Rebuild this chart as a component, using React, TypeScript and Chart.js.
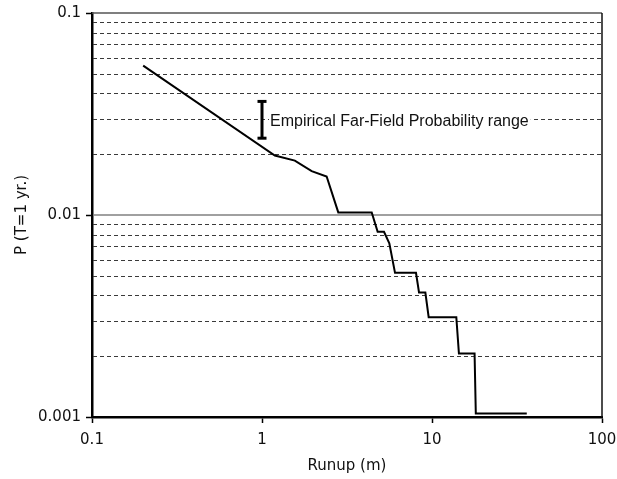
import React, { useEffect, useRef } from "react";
import { Chart, registerables } from "chart.js";

Chart.register(...registerables);

// Runup (m) vs annual probability
const runupValues = [0.2, 1.19, 1.56, 1.96, 2.4, 2.81, 4.42, 4.79, 5.22, 5.61, 6.06, 8.05, 8.39, 9.14, 9.56, 13.9, 14.4, 17.8, 18.1, 36.1];
const probValues = [0.0549, 0.0197, 0.0186, 0.0165, 0.0155, 0.0103, 0.0103, 0.00826, 0.00826, 0.00724, 0.00517, 0.00517, 0.00413, 0.00413, 0.00312, 0.00312, 0.00206, 0.00206, 0.00104, 0.00104];

// Empirical far-field probability range (error bar)
const rangeX = [1.0, 1.0];
const rangeY = [0.0365, 0.024];
const rangeLabel = "Empirical Far-Field Probability range";
const rangeLabelY = 0.0295;

const xTicks = [0.1, 1, 10, 100];
const yTicks = [0.001, 0.01, 0.1];
const yMajorGrid = [0.01];
const yMinorGrid = [0.002, 0.003, 0.004, 0.005, 0.006, 0.007, 0.008, 0.009, 0.02, 0.03, 0.04, 0.05, 0.06, 0.07, 0.08, 0.09];

const xTitle = "Runup (m)";
const yTitle = "P (T=1 yr.)";

const framePlugin = {
  id: "frame",
  beforeDatasetsDraw(chart: any) {
    const { ctx, chartArea, scales } = chart;
    const { left, right, top, bottom } = chartArea;
    const y = scales.y;
    ctx.save();
    ctx.lineWidth = 1;
    ctx.strokeStyle = "#3a3a3a";
    ctx.setLineDash([4, 3]);
    for (const v of yMinorGrid) {
      const py = Math.round(y.getPixelForValue(v)) + 0.5;
      ctx.beginPath();
      ctx.moveTo(left + 1, py);
      ctx.lineTo(right - 1, py);
      ctx.stroke();
    }
    ctx.setLineDash([]);
    ctx.strokeStyle = "#808080";
    ctx.lineWidth = 1.5;
    for (const v of yMajorGrid) {
      const py = y.getPixelForValue(v);
      ctx.beginPath();
      ctx.moveTo(left + 1, py);
      ctx.lineTo(right, py);
      ctx.stroke();
    }
    // top border
    ctx.strokeStyle = "#555";
    ctx.lineWidth = 1.5;
    ctx.beginPath();
    ctx.moveTo(left, top);
    ctx.lineTo(right, top);
    ctx.stroke();
    // right border
    ctx.strokeStyle = "#111";
    ctx.lineWidth = 1.5;
    ctx.beginPath();
    ctx.moveTo(right, top);
    ctx.lineTo(right, bottom);
    ctx.stroke();
    ctx.restore();
  },
  afterDatasetsDraw(chart: any) {
    const { ctx, scales } = chart;
    const px = scales.x.getPixelForValue(rangeX[0]) + 8;
    const py = scales.y.getPixelForValue(rangeLabelY);
    ctx.save();
    ctx.font = "16px 'Liberation Sans', Arial, sans-serif";
    const w = ctx.measureText(rangeLabel).width;
    ctx.fillStyle = "#fff";
    ctx.fillRect(px - 1, py - 8, w + 3, 16);
    ctx.fillStyle = "#111";
    ctx.textBaseline = "middle";
    ctx.textAlign = "left";
    ctx.fillText(rangeLabel, px, py + 1);
    ctx.restore();
  },
};

export default function App() {
  const ref = useRef<HTMLCanvasElement | null>(null);
  useEffect(() => {
    document.body.style.margin = "0";
    const canvas = ref.current;
    if (!canvas) return;
    const tickFont = { family: "'DejaVu Sans', Verdana, sans-serif", size: 15 };
    const chart = new Chart(canvas, {
      type: "line",
      data: {
        datasets: [
          {
            data: runupValues.map((x, i) => ({ x, y: probValues[i] })),
            borderColor: "#000",
            borderWidth: 2,
            pointRadius: 0,
            tension: 0,
            fill: false,
          },
          {
            data: rangeX.map((x, i) => ({ x, y: rangeY[i] })),
            borderColor: "#000",
            borderWidth: 3,
            pointStyle: "line",
            pointRadius: 4.5,
            pointBorderWidth: 3,
            pointBorderColor: "#000",
            tension: 0,
            fill: false,
          },
        ],
      },
      options: {
        responsive: false,
        animation: false,
        devicePixelRatio: 1,
        layout: { padding: { top: 13, right: 15, left: 0, bottom: 0 } },
        plugins: { legend: { display: false }, tooltip: { enabled: false } },
        scales: {
          x: {
            type: "logarithmic",
            min: 0.1,
            max: 100,
            afterBuildTicks: (s: any) => {
              s.ticks = xTicks.map((v) => ({ value: v }));
            },
            afterFit: (s: any) => {
              s.height = 62;
              s.paddingLeft = 0;
              s.paddingRight = 0;
            },
            ticks: {
              autoSkip: false,
              maxRotation: 0,
              padding: 8,
              color: "#111",
              font: tickFont,
              callback: (v: any) => String(v),
            },
            grid: { drawOnChartArea: false, drawTicks: true, tickLength: 6, tickColor: "#000", tickWidth: 1.5 },
            border: { color: "#000", width: 2.5 },
            title: { display: true, text: xTitle, color: "#111", font: tickFont, padding: { top: 0, bottom: 4 } },
          },
          y: {
            type: "logarithmic",
            min: 0.001,
            max: 0.1,
            afterBuildTicks: (s: any) => {
              s.ticks = yTicks.map((v) => ({ value: v }));
            },
            afterFit: (s: any) => {
              s.width = 92;
              s.paddingTop = 0;
              s.paddingBottom = 0;
            },
            ticks: {
              autoSkip: false,
              padding: 5,
              color: "#111",
              font: tickFont,
              callback: (v: any) => String(v),
            },
            grid: { drawOnChartArea: false, drawTicks: true, tickLength: 6, tickColor: "#000", tickWidth: 1.5 },
            border: { color: "#000", width: 2.5 },
            title: { display: true, text: yTitle, color: "#111", font: tickFont, padding: { top: 13, bottom: 0 } },
          },
        },
      },
      plugins: [framePlugin],
    } as any);
    return () => chart.destroy();
  }, []);
  return (
    <div style={{ width: 617, height: 479, background: "#fff" }}>
      <canvas ref={ref} width={617} height={479} style={{ display: "block" }} />
    </div>
  );
}
